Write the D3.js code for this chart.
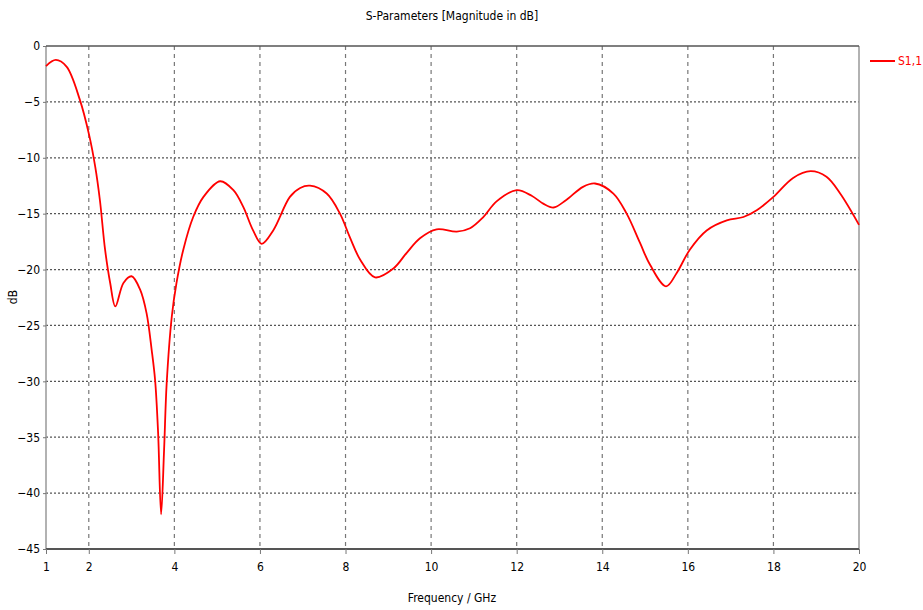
<!DOCTYPE html>
<html>
<head>
<meta charset="UTF-8">
<title>S-Parameters</title>
<script src="https://cdnjs.cloudflare.com/ajax/libs/d3/7.8.5/d3.min.js"></script>
<style>
body { margin:0; background:#fff; }
text { font-family:"DejaVu Sans Condensed","DejaVu Sans",sans-serif; }
.tick { font-size:12px; fill:#000; }
</style>
</head>
<body>
<div id="chart"></div>
<script>
// S1,1 trace
var freq = [1.0,1.23,1.48,1.79,2.01,2.15,2.26,2.38,2.50,2.62,2.81,3.0,3.2,3.35,3.47,3.55,3.62,3.69,3.76,3.82,3.94,4.05,4.21,4.44,4.68,5.07,5.38,5.61,5.84,6.04,6.31,6.70,6.94,7.17,7.56,7.87,8.10,8.34,8.69,9.12,9.43,9.74,10.13,10.60,10.91,11.22,11.53,12.0,12.35,12.62,12.86,13.15,13.55,13.83,14.26,14.57,14.88,15.12,15.49,15.74,16.05,16.44,16.91,17.30,17.61,18.0,18.46,18.87,19.24,19.56,20.0];
var s11 = [-1.8,-1.25,-1.85,-4.8,-8.0,-10.8,-13.8,-18.2,-21.2,-23.3,-21.2,-20.6,-21.8,-23.9,-27.2,-29.9,-34.6,-41.9,-36.1,-30.2,-24.2,-21.2,-18.2,-15.3,-13.5,-12.1,-12.9,-14.4,-16.5,-17.7,-16.5,-13.5,-12.7,-12.5,-13.2,-15.0,-17.1,-19.1,-20.7,-19.9,-18.5,-17.2,-16.4,-16.6,-16.3,-15.3,-13.9,-12.9,-13.4,-14.1,-14.45,-13.8,-12.6,-12.3,-13.2,-15.0,-17.6,-19.6,-21.5,-20.3,-18.2,-16.5,-15.6,-15.3,-14.7,-13.5,-11.8,-11.2,-11.7,-13.2,-16.0];
var xTicks = [1,2,4,6,8,10,12,14,16,18,20];
var yTicks = [0,-5,-10,-15,-20,-25,-30,-35,-40,-45];

var width=923, height=610;
var pL=46, pR=859, pT=46, pB=549; // plot box

var svg=d3.select("#chart").append("svg").attr("width",width).attr("height",height);

var x=d3.scaleLinear().domain([1,20]).range([pL,pR]);
var y=d3.scaleLinear().domain([-45,0]).range([pB,pT]);

// grid
svg.selectAll(".vgrid").data(xTicks.slice(1,-1)).enter().append("line")
  .attr("x1",function(d){return x(d);}).attr("x2",function(d){return x(d);})
  .attr("y1",pT).attr("y2",pB)
  .attr("stroke","#777").attr("stroke-width",1.2).attr("stroke-dasharray","4,4");
svg.selectAll(".hgrid").data(yTicks.slice(1,-1)).enter().append("line")
  .attr("x1",pL).attr("x2",pR)
  .attr("y1",function(d){return y(d);}).attr("y2",function(d){return y(d);})
  .attr("stroke","#555").attr("stroke-width",1.2).attr("stroke-dasharray","2,2");

// frame
svg.append("line").attr("x1",pL).attr("x2",pL).attr("y1",pT).attr("y2",pB).attr("stroke","#999").attr("stroke-width",1.5);
svg.append("line").attr("x1",pR).attr("x2",pR).attr("y1",pT).attr("y2",pB).attr("stroke","#999").attr("stroke-width",1.5);
svg.append("line").attr("x1",pL).attr("x2",pR).attr("y1",pT).attr("y2",pT).attr("stroke","#555").attr("stroke-width",1.5);
svg.append("line").attr("x1",pL).attr("x2",pR).attr("y1",pB).attr("y2",pB).attr("stroke","#555").attr("stroke-width",2);

// axes (ticks + labels)
var xAxis=d3.axisBottom(x).tickValues(xTicks).tickSize(5).tickPadding(8);
var gx=svg.append("g").attr("transform","translate(0,"+pB+")").call(xAxis);
var yAxis=d3.axisLeft(y).tickValues(yTicks).tickSize(3).tickPadding(3);
var gy=svg.append("g").attr("transform","translate("+pL+",0)").call(yAxis);
[gx,gy].forEach(function(g){
  g.select(".domain").remove();
  g.selectAll("line").attr("stroke","#777");
  g.selectAll("text").attr("class","tick").style("font-size","12px").attr("font-family",null);
});

// trace
var pts=freq.map(function(f,i){return [f,s11[i]];});
var line=d3.line().x(function(d){return x(d[0]);}).y(function(d){return y(d[1]);}).curve(d3.curveCatmullRom.alpha(0.5));
svg.append("path").datum(pts).attr("d",line).attr("fill","none").attr("stroke","#ff0000").attr("stroke-width",1.8);

// texts
svg.append("text").attr("x",452).attr("y",20).attr("text-anchor","middle").style("font-size","12px").text("S-Parameters [Magnitude in dB]");
svg.append("text").attr("x",452).attr("y",602).attr("text-anchor","middle").style("font-size","12px").text("Frequency / GHz");
svg.append("text").attr("transform","translate(17,297) rotate(-90)").attr("text-anchor","middle").style("font-size","12px").text("dB");

// legend
svg.append("line").attr("x1",870).attr("x2",895).attr("y1",61).attr("y2",61).attr("stroke","#ff0000").attr("stroke-width",2);
svg.append("text").attr("x",898).attr("y",65).attr("fill","#ff0000").style("font-size","12px").text("S1,1");
</script>
</body>
</html>
